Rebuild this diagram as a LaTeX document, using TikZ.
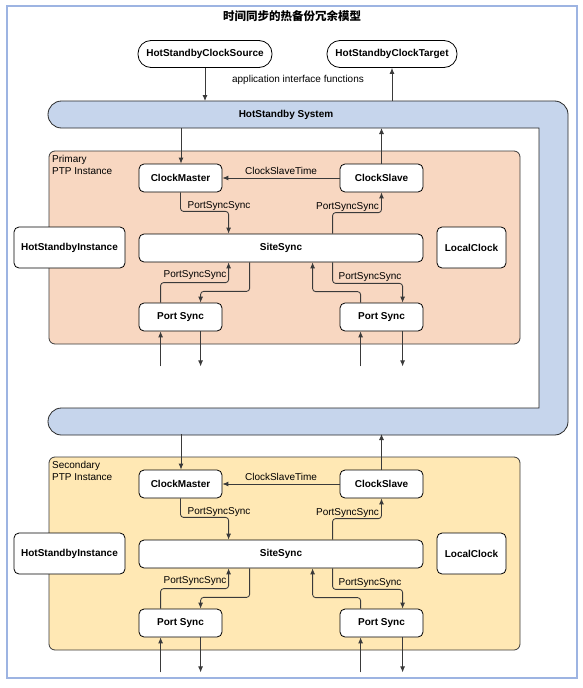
\documentclass[tikz,border=0pt]{standalone}
\usepackage{fontspec}
\setmainfont{Liberation Sans}
\newfontfamily\cjk{Noto Sans CJK SC}
\usetikzlibrary{arrows.meta,calc}
\definecolor{sysfill}{HTML}{C6D5EC}
\definecolor{primfill}{HTML}{F8D7C1}
\definecolor{secfill}{HTML}{FFE8B4}
\definecolor{frameblue}{HTML}{9DB4E2}
\definecolor{linegray}{HTML}{3A3A3A}
\tikzset{
  box/.style={draw=black, fill=white, rounded corners=5pt, line width=0.8pt,
    font=\fontsize{10}{11}\selectfont\bfseries, inner sep=0pt,
    minimum width=83pt, minimum height=28pt},
  stadium/.style={box, rounded corners=13pt, minimum height=27pt},
  lbl/.style={font=\fontsize{10}{12}\selectfont, inner sep=0pt},
  conn/.style={draw=linegray, line width=0.85pt, rounded corners=3pt,
    -{Latex[length=6pt,width=5pt]}},
  inst/.style={draw=linegray, line width=0.8pt, rounded corners=6pt},
  sysshape/.style={draw=black!85, fill=sysfill, line width=0.8pt},
}
\newcommand\ptpinst[4]{%
\begin{scope}[yshift=-#2pt]
  \draw[inst, fill=#3] (49,151) rectangle (520,344);
  \node[lbl, align=left, anchor=north west] (#1name) at (52,155) {#4\\PTP Instance};
  \coordinate (#1sysin) at (181,128);
  \coordinate (#1sysout) at (381.5,128);
  \node[box] (#1cm) at (180.5,178) {ClockMaster};
  \node[box] (#1cs) at (381.5,178) {ClockSlave};
  \node[box, minimum width=111pt, minimum height=41pt] (#1hi) at (69.5,247.5) {HotStandbyInstance};
  \node[box, minimum width=284pt] (#1ss) at (281,248) {SiteSync};
  \node[box, minimum width=69pt, minimum height=41pt] (#1lc) at (471.5,247.5) {LocalClock};
  \node[box] (#1pl) at (180.5,317) {Port Sync};
  \node[box] (#1pr) at (381.5,317) {Port Sync};
  \node[lbl] (#1lt) at (281,171) {ClockSlaveTime};
  \node[lbl] (#1la) at (219,206) {PortSyncSync};
  \node[lbl] (#1lb) at (347.5,207) {PortSyncSync};
  \node[lbl] (#1lc2) at (195,275) {PortSyncSync};
  \node[lbl] (#1ld) at (370,277) {PortSyncSync};
  \draw[conn] (#1sysin) -- (#1sysin |- #1cm.north);
  \draw[conn] (#1cs.north) -- (#1sysout);
  \draw[conn] (#1cs.west) -- (#1cm.east);
  \draw[conn] (#1cm.south) -- ++(0,19) -| ([xshift=90pt]#1ss.north west);
  \draw[conn] ([xshift=194pt]#1ss.north west) -- ++(0,-21) -| (#1cs.south);
  \draw[conn] ([xshift=22pt]#1pl.north west) -- ++(0,-20) -| ([xshift=90pt]#1ss.south west);
  \draw[conn] ([xshift=111pt]#1ss.south west) -- ++(0,29) -| ([xshift=62pt]#1pl.north west);
  \draw[conn] ([xshift=21pt]#1pr.north west) -- ++(0,-11) -| ([xshift=174pt]#1ss.south west);
  \draw[conn] ([xshift=194pt]#1ss.south west) -- ++(0,21) -| ([xshift=63pt]#1pr.north west);
  \coordinate (#1plin) at ([yshift=-35pt,xshift=22pt]#1pl.south west);
  \coordinate (#1plout) at ([yshift=-35pt,xshift=62pt]#1pl.south west);
  \coordinate (#1prin) at ([yshift=-35pt,xshift=21pt]#1pr.south west);
  \coordinate (#1prout) at ([yshift=-35pt,xshift=63pt]#1pr.south west);
  \draw[conn] (#1plin) -- (#1plin |- #1pl.south);
  \draw[conn] (#1plout |- #1pl.south) -- (#1plout);
  \draw[conn] (#1prin) -- (#1prin |- #1pr.south);
  \draw[conn] (#1prout |- #1pr.south) -- (#1prout);
\end{scope}}
\begin{document}
\begin{tikzpicture}[x=1pt, y=-1pt]
  \useasboundingbox (0,0) rectangle (583,688);
  \draw[frameblue, line width=1.3pt] (7,6) rectangle (577,678);
  \node[font=\fontsize{11.5}{13}\selectfont\cjk\bfseries] (title) at (292,16) {时间同步的热备份冗余模型};
  \node[stadium, minimum width=134pt] (src) at (205,54) {HotStandbyClockSource};
  \node[stadium, minimum width=130pt] (tgt) at (392,54) {HotStandbyClockTarget};
  \node[lbl] (api) at (298,80) {application interface functions};
  \draw[sysshape] (539,128) -- (100,128) [rounded corners=13.5pt] -- (48,128) -- (48,101) -- (568,101) -- (568,435) -- (48,435) -- (48,408) -- (100,408) [sharp corners] -- (539,408) -- cycle;
  \node[lbl, font=\fontsize{10}{11}\selectfont\bfseries] (sys) at (286,115) {HotStandby System};
  \coordinate (systop1) at (205,101);
  \coordinate (systop2) at (392,101);
  \draw[conn] (src.south) -- (systop1);
  \draw[conn] (systop2) -- (tgt.south);
  \ptpinst{p}{0}{primfill}{Primary}
  \ptpinst{s}{306}{secfill}{Secondary}
\end{tikzpicture}
\end{document}
